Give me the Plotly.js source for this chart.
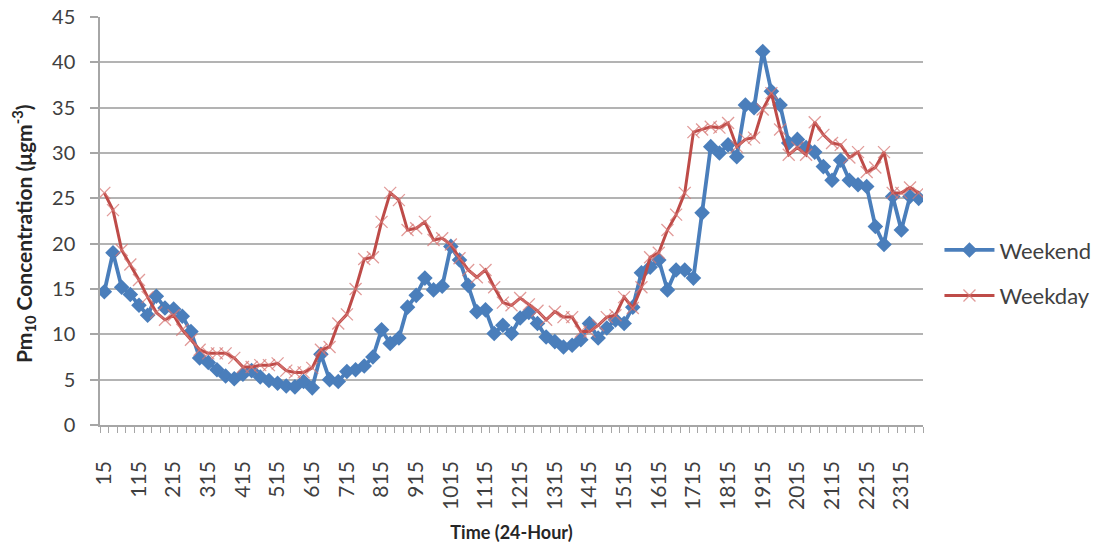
<!DOCTYPE html>
<html>
<head>
<meta charset="utf-8">
<script src="https://cdn.plot.ly/plotly-3.0.1.min.js"></script>
<style>html,body{margin:0;padding:0;background:#fff;}#chart{width:1095px;height:546px;}</style>
</head>
<body>
<div id="chart"></div>
<script>
const times = ["15","30","45","100","115","130","145","200","215","230","245","300","315","330","345","400",
"415","430","445","500","515","530","545","600","615","630","645","700","715","730","745","800",
"815","830","845","900","915","930","945","1000","1015","1030","1045","1100","1115","1130","1145","1200",
"1215","1230","1245","1300","1315","1330","1345","1400","1415","1430","1445","1500","1515","1530","1545","1600",
"1615","1630","1645","1700","1715","1730","1745","1800","1815","1830","1845","1900","1915","1930","1945","2000",
"2015","2030","2045","2100","2115","2130","2145","2200","2215","2230","2245","2300","2315","2330","2345"];

const weekend = [14.7,19.0,15.2,14.4, 13.2,12.1,14.2,12.9, 12.8,12.0,10.3,7.4, 6.9,6.1,5.4,5.1,
  5.6,6.0,5.3,4.9, 4.6,4.3,4.2,4.8, 4.1,7.8,5.0,4.8, 5.9,6.1,6.5,7.5,
  10.5,9.0,9.6,13.0, 14.3,16.2,14.9,15.3, 19.7,18.2,15.4,12.5, 12.7,10.1,11.0,10.1,
  11.8,12.4,11.2,9.7, 9.2,8.6,8.8,9.4, 11.2,9.6,10.7,11.6, 11.2,13.0,16.8,17.4,
  18.2,14.9,17.1,17.1, 16.2,23.4,30.7,30.0, 30.9,29.6,35.3,35.0, 41.2,36.8,35.3,31.1,
  31.5,30.6,30.1,28.5, 27.0,29.2,27.0,26.5, 26.3,21.9,19.9,25.2, 21.5,25.2,25.0];

const weekday = [25.6,23.7,19.3,17.7, 16.0,14.1,12.4,11.6, 12.1,10.5,9.4,8.3, 7.9,7.9,7.9,7.4,
  6.4,6.4,6.6,6.6, 6.8,6.0,5.8,5.8, 6.3,8.3,8.6,11.2, 12.2,15.0,18.3,18.5,
  22.4,25.6,24.8,21.5, 21.7,22.4,20.4,20.6, 19.9,18.4,17.1,16.3, 17.1,15.2,13.5,13.2,
  14.0,13.3,12.6,11.6, 12.5,11.9,11.9,10.3, 10.3,11.0,11.9,12.1, 14.1,12.9,15.2,18.5,
  19.0,21.5,23.2,25.6, 32.3,32.6,32.9,32.8, 33.3,30.7,31.5,31.7, 34.8,36.6,32.6,29.8,
  30.6,29.8,33.4,32.0, 31.1,30.9,29.5,30.1, 27.9,28.4,30.1,25.6, 25.6,26.2,25.6];

const seriesNames = ["Weekend", "Weekday"];
const labelStep = 4;

const xIdx = times.map((t, i) => i);
const tickIdx = xIdx.filter(i => i % labelStep === 0);
const tickText = tickIdx.map(i => times[i]);

const font = "Lato, 'Open Sans', sans-serif";

const traces = [
  {
    x: xIdx, y: weekend, name: seriesNames[0], type: "scatter", mode: "lines+markers",
    legendgroup: "a",
    line: {color: "#4a7ebb", width: 3.8},
    marker: {symbol: "diamond", size: 12, color: "#4a7ebb"}
  },
  {
    x: xIdx, y: weekday, name: seriesNames[1], type: "scatter", mode: "lines+markers",
    legendgroup: "b",
    line: {color: "#be4b48", width: 3},
    marker: {symbol: "x-thin-open", size: 12, color: "rgba(215,120,118,0.75)", line: {color: "rgba(215,120,118,0.75)", width: 1.3}}
  }
];

const layout = {
  width: 1095, height: 546,
  margin: {l: 100, r: 172, t: 17, b: 121, autoexpand: false},
  paper_bgcolor: "#ffffff", plot_bgcolor: "#ffffff",
  font: {family: font, color: "#404040"},
  showlegend: true,
  legend: {
    x: 1.02, xanchor: "left", y: 0.48, yanchor: "top",
    font: {family: font, size: 22, color: "#404040"},
    traceorder: "grouped", tracegroupgap: 14, itemwidth: 50
  },
  xaxis: {
    range: [-0.5, times.length - 0.5],
    tickmode: "array", tickvals: tickIdx, ticktext: tickText,
    tickangle: -90, ticks: "", ticklabelstandoff: 26,
    tickfont: {family: font, size: 21, color: "#404040"},
    showgrid: false, zeroline: false,
    showline: true, linecolor: "#a6a6a6", linewidth: 1.5,
    minor: {tickmode: "linear", tick0: -0.5, dtick: 1, ticks: "outside", ticklen: 6, tickcolor: "#a6a6a6", tickwidth: 1, showgrid: false},
    title: {text: "<b>Time (24-Hour)</b>", font: {family: font, size: 18, color: "#262626"}, standoff: 18}
  },
  yaxis: {
    range: [0, 45], tickmode: "linear", tick0: 0, dtick: 5,
    ticks: "outside", ticklen: 8, tickcolor: "#a6a6a6", tickwidth: 1.5,
    ticklabelstandoff: 11,
    tickfont: {family: font, size: 20, color: "#404040"},
    showgrid: true, gridcolor: "#b3b3b3", gridwidth: 1.5,
    zeroline: false, showline: true, linecolor: "#a6a6a6", linewidth: 1.5,
    title: {text: "<b>Pm<sub>10</sub> Concentration (μgm<sup>-3</sup>)&nbsp;&nbsp;&nbsp;&nbsp;&nbsp;</b>", font: {family: font, size: 21, color: "#262626"}, standoff: 14}
  }
};

Plotly.newPlot("chart", traces, layout, {displayModeBar: false, responsive: false});
</script>
</body>
</html>
